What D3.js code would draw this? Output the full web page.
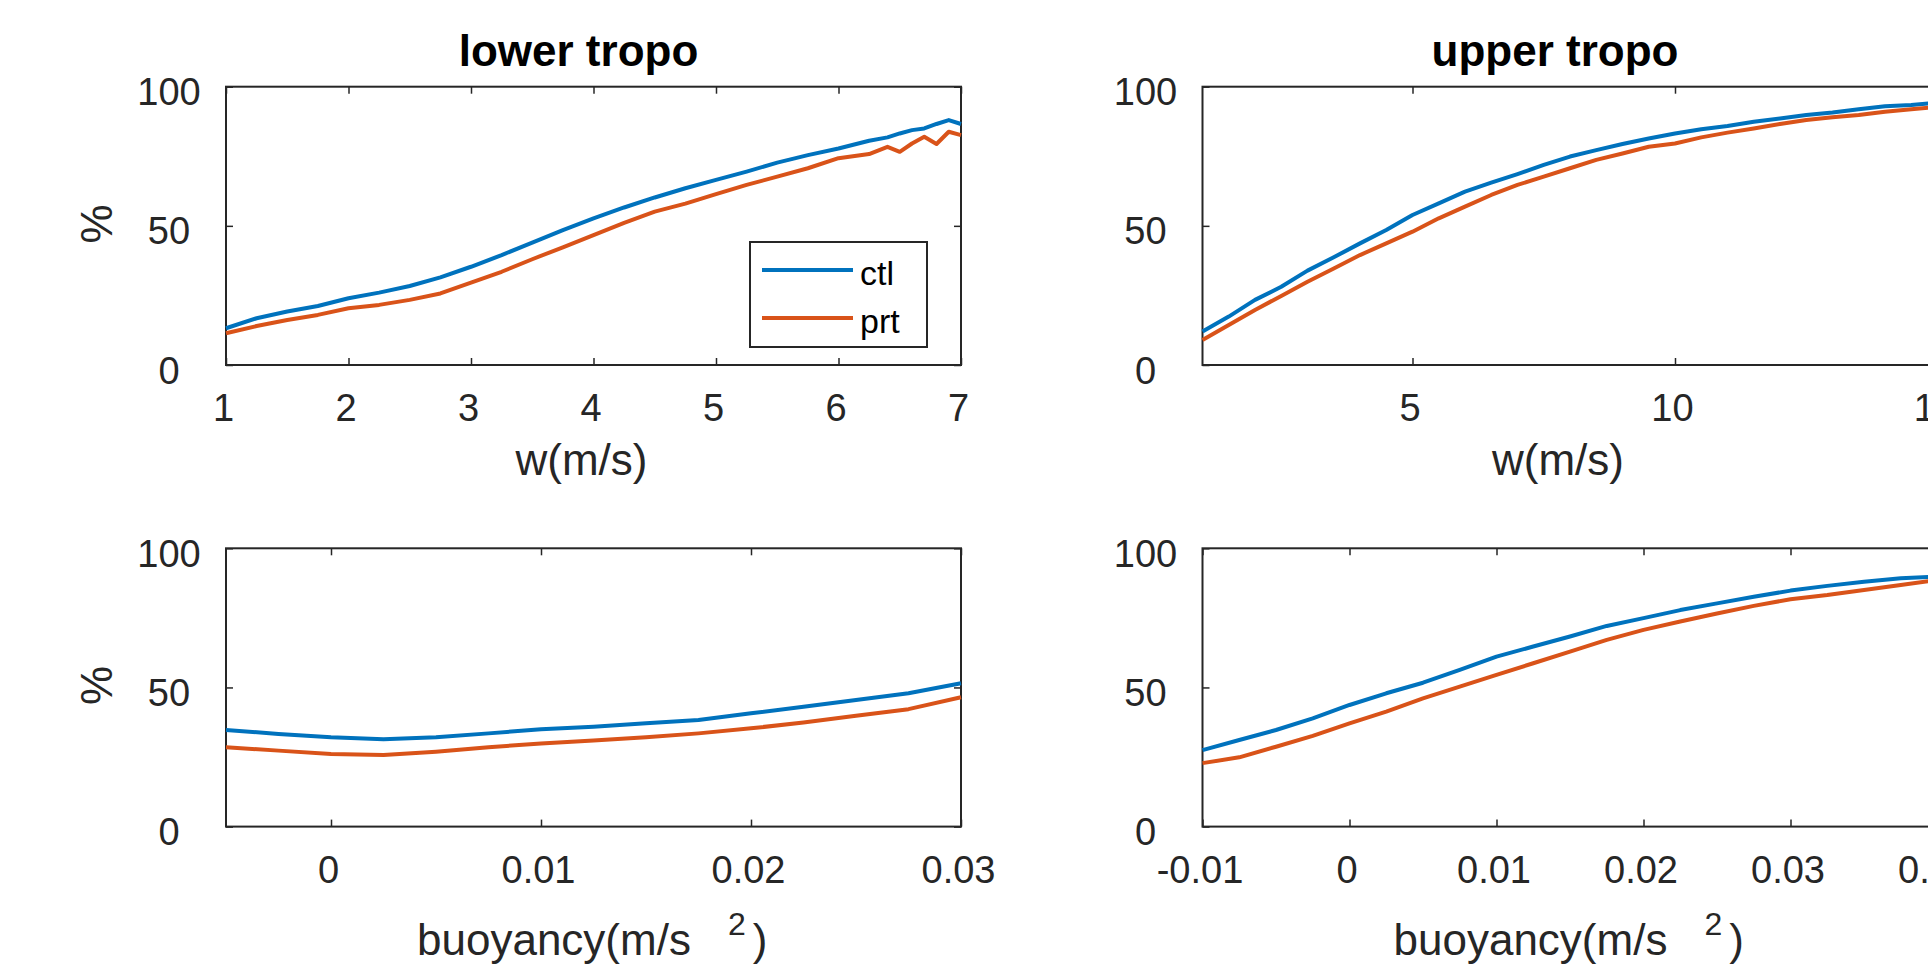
<!DOCTYPE html>
<html>
<head>
<meta charset="utf-8">
<script src="https://cdn.jsdelivr.net/npm/d3@7"></script>
<style>
  body { margin: 0; background: #fff; }
  svg { display: block; font-family: "Liberation Sans", Arial, Helvetica, sans-serif; }
</style>
</head>
<body>
<svg width="1928" height="969"></svg>
<script>
// lower tropo, w
const lowerW = [1, 1.25, 1.5, 1.75, 2, 2.25, 2.5, 2.75, 3, 3.25, 3.5, 3.75, 4, 4.25, 4.5, 4.75, 5, 5.25, 5.5, 5.75, 6, 6.25, 6.4, 6.5, 6.6, 6.7, 6.8, 6.9, 7];
const lowerWCtl = [13.2, 16.8, 19.2, 21.2, 24, 26, 28.4, 31.5, 35.3, 39.5, 44, 48.5, 52.7, 56.6, 60.2, 63.5, 66.5, 69.5, 72.7, 75.4, 77.8, 80.6, 81.8, 83.2, 84.4, 85, 86.6, 88, 86.6];
const lowerWPrt = [11.4, 14, 16.2, 18, 20.4, 21.6, 23.4, 25.7, 29.6, 33.5, 38, 42.3, 46.7, 51.1, 55.1, 58, 61.4, 64.7, 67.7, 70.7, 74.3, 75.8, 78.4, 76.6, 79.6, 82, 79.4, 83.8, 82.6];

// upper tropo, w
const upperW = [1, 1.5, 2, 2.5, 3, 3.5, 4, 4.5, 5, 5.5, 6, 6.5, 7, 7.5, 8, 8.5, 9, 9.5, 10, 10.5, 11, 11.5, 12, 12.5, 13, 13.5, 14, 14.5, 15];
const upperWCtl = [12, 17.4, 23.4, 28.1, 33.9, 38.7, 43.7, 48.5, 53.9, 58.1, 62.3, 65.5, 68.6, 71.9, 74.9, 77.2, 79.4, 81.4, 83.2, 84.7, 85.9, 87.4, 88.6, 89.8, 90.7, 91.9, 93, 93.4, 94.3];
const upperWPrt = [9, 14.4, 19.8, 24.8, 29.9, 34.7, 39.5, 43.7, 47.9, 52.7, 56.9, 61.1, 64.7, 67.7, 70.7, 73.7, 76, 78.4, 79.6, 81.8, 83.5, 85, 86.6, 88, 89, 89.8, 91, 91.9, 92.8];

// lower tropo, buoyancy
const lowerB = [-0.005, -0.0025, 0, 0.0025, 0.005, 0.0075, 0.01, 0.0125, 0.015, 0.0175, 0.02, 0.0225, 0.025, 0.0275, 0.03];
const lowerBCtl = [34.7, 33.3, 32.1, 31.4, 32.1, 33.5, 35, 35.9, 37.1, 38.3, 40.7, 43.1, 45.5, 47.9, 51.5];
const lowerBPrt = [28.5, 27.3, 26.1, 25.7, 26.9, 28.5, 29.9, 30.9, 32.1, 33.5, 35.3, 37.4, 39.8, 42.2, 46.5];

// upper tropo, buoyancy
const upperB = [-0.01, -0.0075, -0.005, -0.0025, 0, 0.0025, 0.005, 0.0075, 0.01, 0.0125, 0.015, 0.0175, 0.02, 0.0225, 0.025, 0.0275, 0.03, 0.0325, 0.035, 0.0375, 0.04];
const upperBCtl = [27.5, 31.1, 34.7, 38.9, 43.7, 47.9, 51.7, 56.3, 61.1, 64.7, 68.3, 72.1, 74.9, 77.8, 80.2, 82.6, 84.8, 86.5, 88, 89.2, 89.9];
const upperBPrt = [22.8, 24.9, 28.7, 32.6, 37.1, 41.3, 46.1, 50.3, 54.5, 58.7, 62.9, 67.1, 70.7, 73.7, 76.6, 79.3, 81.7, 83.2, 85, 86.8, 88.6];

// ticks
const yTicks = [0, 50, 100];
const lowerWTicks = [1, 2, 3, 4, 5, 6, 7];
const upperWTicks = [5, 10, 15];
const lowerBTicks = [0, 0.01, 0.02, 0.03];
const lowerBLabels = ["0", "0.01", "0.02", "0.03"];
const upperBTicks = [-0.01, 0, 0.01, 0.02, 0.03, 0.04];
const upperBLabels = ["-0.01", "0", "0.01", "0.02", "0.03", "0.04"];

const seriesNames = ["ctl", "prt"];
const colors = ["#0072BD", "#D95319"];

const svg = d3.select("svg");
const W = 735, H = 278.3;
const ink = "#262626";

const panels = [
  { left: 226, top: 86.7, xd: [1, 7], xs: lowerW, ys: [lowerWCtl, lowerWPrt],
    ticks: lowerWTicks, labels: lowerWTicks.map(String), title: "lower tropo", legend: true, kind: "w" },
  { left: 1202.5, top: 86.7, xd: [1, 15], xs: upperW, ys: [upperWCtl, upperWPrt],
    ticks: upperWTicks, labels: upperWTicks.map(String), title: "upper tropo", ylab: false, kind: "w" },
  { left: 226, top: 548.3, xd: [-0.005, 0.03], xs: lowerB, ys: [lowerBCtl, lowerBPrt],
    ticks: lowerBTicks, labels: lowerBLabels, kind: "b" },
  { left: 1202.5, top: 548.3, xd: [-0.01, 0.04], xs: upperB, ys: [upperBCtl, upperBPrt],
    ticks: upperBTicks, labels: upperBLabels, ylab: false, kind: "b" }
];

panels.forEach(p => {
  const g = svg.append("g").attr("transform", `translate(${p.left},${p.top})`);
  const x = d3.scaleLinear().domain(p.xd).range([0, W]);
  const y = d3.scaleLinear().domain([0, 100]).range([H, 0]);

  // ticks pointing inward on all four sides
  const bottom = g.append("g").attr("transform", `translate(0,${H})`)
    .call(d3.axisBottom(x).tickValues(p.ticks).tickFormat((d, i) => p.labels[i]).tickSizeInner(-7).tickSizeOuter(0));
  bottom.selectAll("text").attr("y", 56).attr("dy", null).attr("dx", -3);

  const top = g.append("g")
    .call(d3.axisTop(x).tickValues(p.ticks).tickSizeInner(-7).tickSizeOuter(0));
  top.selectAll("text").remove();

  const left = g.append("g")
    .call(d3.axisLeft(y).tickValues(yTicks).tickSizeInner(-7).tickSizeOuter(0));
  left.selectAll("text").attr("x", -57).attr("dy", null).attr("y", 18).attr("text-anchor", "middle");

  const right = g.append("g").attr("transform", `translate(${W},0)`)
    .call(d3.axisRight(y).tickValues(yTicks).tickSizeInner(-7).tickSizeOuter(0));
  right.selectAll("text").remove();

  [bottom, top, left, right].forEach(a => {
    a.attr("font-family", null).attr("font-size", 38).style("color", ink);
    a.select(".domain").remove();
    a.selectAll("line").attr("stroke-width", 1.5);
  });

  g.append("rect")
    .attr("width", W).attr("height", H)
    .attr("fill", "none").attr("stroke", ink).attr("stroke-width", 2);

  const line = d3.line().x((d, i) => x(p.xs[i])).y(d => y(d));
  p.ys.forEach((vals, k) => {
    g.append("path")
      .datum(vals)
      .attr("d", line)
      .attr("fill", "none")
      .attr("stroke", colors[k])
      .attr("stroke-width", 4)
      .attr("stroke-linejoin", "round");
  });

  if (p.title) {
    g.append("text")
      .attr("x", W / 2 - 15).attr("y", 66 - p.top)
      .attr("text-anchor", "middle")
      .attr("font-size", 44).attr("font-weight", "bold").attr("fill", "#000")
      .text(p.title);
  }

  if (p.kind === "w") {
    g.append("text")
      .attr("x", W / 2 - 12).attr("y", H + 110)
      .attr("text-anchor", "middle")
      .attr("font-size", 44).attr("fill", ink)
      .text("w(m/s)");
  } else {
    const t = g.append("text")
      .attr("x", 191).attr("y", H + 128)
      .attr("font-size", 44).attr("fill", ink);
    t.append("tspan").text("buoyancy(m/s");
    t.append("tspan").attr("dx", 37).attr("dy", -20).attr("font-size", 32).text("2");
    t.append("tspan").attr("dx", 7).attr("dy", 20).text(")");
  }

  if (p.ylab !== false) {
    g.append("text")
      .attr("transform", `translate(${112 - p.left},${H / 2 - 2}) rotate(-90)`)
      .attr("text-anchor", "middle")
      .attr("font-size", 44).attr("fill", ink)
      .text("%");
  }

  if (p.legend) {
    const lg = g.append("g").attr("transform", `translate(${750 - p.left},${242 - p.top})`);
    lg.append("rect")
      .attr("width", 177).attr("height", 105)
      .attr("fill", "#fff").attr("stroke", ink).attr("stroke-width", 2);
    seriesNames.forEach((name, k) => {
      const yy = 28 + k * 48;
      lg.append("line")
        .attr("x1", 12).attr("x2", 103).attr("y1", yy).attr("y2", yy)
        .attr("stroke", colors[k]).attr("stroke-width", 4);
      lg.append("text")
        .attr("x", 110).attr("y", yy + 15)
        .attr("font-size", 34).attr("fill", "#000")
        .text(name);
    });
  }
});
</script>
</body>
</html>
